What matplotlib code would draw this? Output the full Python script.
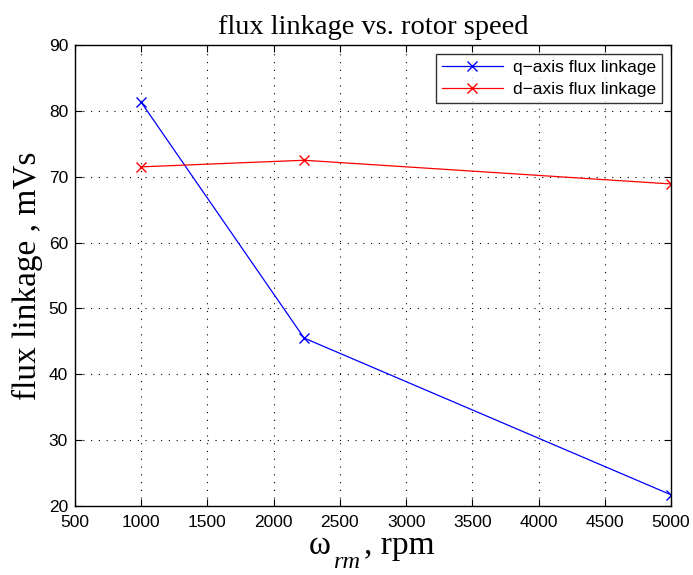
import matplotlib
matplotlib.use("Agg")
import matplotlib.pyplot as plt

# rotor speed (rpm) and flux linkages (mVs)
speed_rpm = [1000, 2230, 5000]
q_flux = [81.3, 45.5, 21.7]
d_flux = [71.5, 72.5, 68.9]

x_ticks = [500, 1000, 1500, 2000, 2500, 3000, 3500, 4000, 4500, 5000]
y_ticks = [20, 30, 40, 50, 60, 70, 80, 90]

W, H = 693, 575
fig = plt.figure(figsize=(W / 100, H / 100), dpi=100)
ax = fig.add_axes([75 / W, 1 - 506 / H, 596 / W, 461 / H])

ax.plot(speed_rpm, q_flux, color="#0000ff", lw=0.9, marker="x", ms=7, mew=1.0,
        label="q\u2212axis flux linkage")
ax.plot(speed_rpm, d_flux, color="#ff0000", lw=0.9, marker="x", ms=7, mew=1.0,
        label="d\u2212axis flux linkage")

ax.set_xlim(500, 5000)
ax.set_ylim(20, 90)
ax.set_xticks(x_ticks)
ax.set_yticks(y_ticks)
ax.grid(True, color="black", linestyle=(0, (1, 6)), linewidth=0.8)
ax.tick_params(direction="in", top=True, right=True, length=5, width=0.8,
               labelsize=12.5, pad=6.5)
ax.tick_params(axis="y", pad=5)
for lbl in ax.get_xticklabels() + ax.get_yticklabels():
    lbl.set_family("Liberation Sans")
for s in ax.spines.values():
    s.set_linewidth(1.0)

ax.set_title("flux linkage vs. rotor speed", family="Liberation Serif",
             fontsize=20.5, pad=8)
ax.set_ylabel("flux linkage , mVs", family="Liberation Serif", fontsize=24,
              labelpad=4)

# x-axis label: omega with a dropped "rm" subscript
serif = "Liberation Serif"
fig.text(309 / W, 1 - 554 / H, "\u03c9", family=serif, fontsize=24,
         va="baseline", ha="left")
fig.text(333 / W, 1 - 568 / H, "rm", family=serif, style="italic",
         fontsize=17.5, va="baseline", ha="left")
fig.text(364 / W, 1 - 554 / H, ", rpm", family=serif, fontsize=24,
         va="baseline", ha="left")

leg = ax.legend(loc="upper right", prop={"family": "Liberation Sans", "size": 12.5},
                frameon=True, fancybox=False, edgecolor="black",
                borderaxespad=0.5, handlelength=3.5, borderpad=0.35,
                labelspacing=0.4, handletextpad=0.6)
leg.get_frame().set_linewidth(1.0)

fig.savefig("out.png", dpi=100)
